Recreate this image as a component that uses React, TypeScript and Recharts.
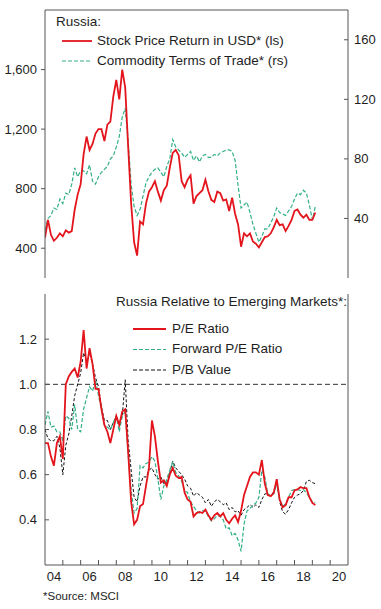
import React from 'react';
import { LineChart, Line, XAxis, YAxis, ReferenceLine } from 'recharts';

// two-month steps from Jan 2004 to early 2019
const dates = Array.from({ length: 92 }, (_, i) => 2004 + i / 6);

// top panel: stock price (left scale) and commodity terms of trade (right scale)
const stockPrice = [
  470, 590, 490, 450, 470, 500, 480, 520, 505, 515,
  660, 760, 830, 1030, 1150, 1060, 1100, 1170, 1200, 1200,
  1120, 1230, 1250, 1420, 1530, 1400, 1600, 1480, 1080, 700,
  440, 350, 580, 560, 700, 780, 810, 850, 780, 720,
  790, 820, 940, 1040, 1060, 1025, 850, 810, 860, 890,
  700, 750, 770, 790, 860, 783, 725, 710, 780, 770,
  720, 728, 650, 740, 630, 560, 410, 500, 480, 500,
  445, 430, 405, 440, 475, 480, 500, 540, 590, 555,
  560, 515, 550, 590, 650, 660, 625, 605, 625, 590,
  590, 640,
];
const commodityTot = [
  32, 40, 42, 47, 46, 53, 50, 57, 56, 63,
  74, 68, 72, 72, 70, 76, 65, 63, 68, 71,
  73, 75, 80, 82, 88, 95, 108, 114, 92, 63,
  48, 42, 46, 55, 64, 68, 71, 73, 74, 71,
  68, 75, 80, 93, 88, 86, 84, 81, 83, 85,
  79, 82, 78, 82, 83, 81, 81, 83, 82, 84,
  85, 86, 86, 85, 79, 62, 47, 49, 51, 44,
  36, 30, 24, 28, 33, 33, 37, 41, 47, 44,
  43, 42, 45, 48, 53, 57, 56, 59, 57, 49,
  39, 48,
];

// bottom panel: Russia relative to EM
const peRatio = [
  0.74, 0.74, 0.68, 0.64, 0.74, 0.77, 0.67, 1.0, 1.035, 1.055,
  1.07, 1.03, 1.1, 1.24, 1.07, 1.16, 1.09, 0.98, 0.98, 0.89,
  0.82, 0.79, 0.74, 0.8, 0.86, 0.82, 0.88, 0.89, 0.7, 0.48,
  0.38, 0.4, 0.46, 0.47, 0.55, 0.63, 0.84, 0.77, 0.66, 0.565,
  0.575, 0.55, 0.6, 0.63, 0.595, 0.585, 0.59, 0.52, 0.49, 0.48,
  0.415, 0.43, 0.435, 0.43, 0.445, 0.42, 0.4, 0.42, 0.43, 0.415,
  0.43, 0.4, 0.385, 0.405, 0.42, 0.39, 0.44, 0.51, 0.55, 0.59,
  0.61, 0.61, 0.6, 0.665, 0.56, 0.51, 0.505, 0.52, 0.58, 0.49,
  0.455, 0.465, 0.5, 0.5, 0.53, 0.535, 0.545, 0.54, 0.54, 0.5,
  0.475, 0.465,
];
const fwdPeRatio = [
  0.82, 0.88, 0.81, 0.815, 0.79, 0.79, 0.75, 0.86, 0.85, 0.8,
  0.91, 0.8, 0.79, 0.89, 0.94, 0.99, 0.97, 1.02, 0.95, 0.89,
  0.82, 0.81, 0.8, 0.83, 0.86, 0.79, 0.86, 0.88, 0.69, 0.53,
  0.43, 0.45, 0.64, 0.63, 0.65, 0.655, 0.68, 0.66, 0.58, 0.49,
  0.55, 0.58, 0.62, 0.655, 0.61, 0.595, 0.57, 0.53, 0.52, 0.48,
  0.46, 0.44, 0.43, 0.44, 0.44, 0.415, 0.395, 0.405, 0.42, 0.415,
  0.4, 0.36, 0.365, 0.33, 0.34, 0.31, 0.26, 0.38, 0.44, 0.45,
  0.465, 0.475, 0.5, 0.62, 0.59, 0.515, 0.505, 0.515, 0.56, 0.49,
  0.46, 0.47, 0.5, 0.53, 0.534, 0.534, 0.53, 0.534, 0.52, 0.5,
  0.48, 0.475,
];
const pbValue = [
  0.8, 0.76, 0.75, 0.75, 0.77, 0.72, 0.6, 0.73, 0.78, 0.86,
  0.95, 1.0, 1.05, 1.14, 1.1, 1.14, 1.09, 1.03, 0.99, 0.9,
  0.84, 0.84, 0.8, 0.83, 0.86, 0.82, 0.86, 1.02, 0.75, 0.62,
  0.5, 0.48, 0.55, 0.59, 0.59, 0.62, 0.63, 0.6, 0.58, 0.59,
  0.56, 0.565, 0.61, 0.66, 0.63, 0.615, 0.6, 0.58, 0.55, 0.54,
  0.505, 0.52, 0.51, 0.5, 0.475, 0.49, 0.46, 0.48, 0.49, 0.48,
  0.467, 0.475, 0.445, 0.455, 0.435, 0.44, 0.42, 0.445, 0.455, 0.467,
  0.455, 0.467, 0.455, 0.49, 0.515, 0.515, 0.505, 0.525, 0.58, 0.48,
  0.435, 0.425, 0.445, 0.475, 0.5, 0.51, 0.515, 0.53, 0.57, 0.575,
  0.565, 0.56,
];

const stockTicks = [400, 800, 1200, 1600];
const totTicks = [40, 80, 120, 160];
const ratioTicks = [0.4, 0.6, 0.8, 1.0, 1.2];
const yearLabels = ['04', '06', '08', '10', '12', '14', '16', '18', '20'];
const yearBreaks = [2005, 2006, 2007, 2008, 2009, 2010, 2011, 2012, 2013, 2014, 2015, 2016, 2017, 2018, 2019, 2020];

const FONT = '"Liberation Sans", Arial, sans-serif';
const TEXT = '#1e1e1e';
const AXIS = '#555';
const RED = '#e3141c';
const GREEN = '#34b088';

const topData = dates.map((t, i) => ({ t, stock: stockPrice[i], tot: commodityTot[i] }));
const bottomData = dates.map((t, i) => ({ t, pe: peRatio[i], fpe: fwdPeRatio[i], pb: pbValue[i] }));

const labelTicks = yearLabels.map((l) => 2000 + Number(l) + 0.5);
const xTicks = [...yearBreaks, ...labelTicks].sort((a, b) => a - b);

// y tick: short mark (in or out) plus label
const YTick = (props: any) => {
  const { x, y, payload, side, inward, fmt } = props;
  const dir = side === 'left' ? 1 : -1;
  const len = inward ? 4 * dir : -4 * dir;
  const tx = side === 'left' ? x - 8 : x + 6;
  return (
    <g>
      <line x1={x} y1={y} x2={x + len} y2={y} stroke={AXIS} />
      <text x={tx} y={y} dy={4.5} textAnchor={side === 'left' ? 'end' : 'start'}
        fontSize={13} fill={TEXT} fontFamily={FONT}>
        {fmt(payload.value)}
      </text>
    </g>
  );
};

const XTick = (props: any) => {
  const { x, y, payload } = props;
  const v = payload.value;
  if (Number.isInteger(v)) {
    return <line x1={x} y1={y} x2={x} y2={y - 5} stroke={AXIS} />;
  }
  return (
    <text x={x} y={y + 16} textAnchor="middle" fontSize={13} fill={TEXT} fontFamily={FONT}>
      {String(Math.floor(v) - 2000).padStart(2, '0')}
    </text>
  );
};

const Sample = ({ x1, x2, y, color, dash, w }: any) => (
  <svg style={{ position: 'absolute', left: 0, top: 0, overflow: 'visible' }} width={1} height={1}>
    <line x1={x1} y1={y} x2={x2} y2={y} stroke={color} strokeWidth={w} strokeDasharray={dash} />
  </svg>
);

const Label = ({ left, right, cy, size = 13.5, children }: any) => (
  <div style={{
    position: 'absolute', left, right, top: cy - 8, lineHeight: '16px',
    fontSize: size, fontFamily: FONT, color: TEXT, whiteSpace: 'nowrap',
  }}>
    {children}
  </div>
);

const fmtThousands = (v: number) => v.toLocaleString('en-US');
const fmtPlain = (v: number) => String(v);
const fmtOne = (v: number) => v.toFixed(1);

export default function App() {
  return (
    <div style={{ position: 'absolute', left: 0, top: 0, width: 381, height: 609, background: '#fff' }}>
      <div style={{ position: 'absolute', left: 0, top: 0 }}>
        <LineChart width={381} height={290} data={topData} margin={{ top: 10, right: 0, bottom: 12, left: 0 }}>
          <XAxis dataKey="t" type="number" domain={[2004, 2021]} hide allowDataOverflow />
          <YAxis yAxisId="l" orientation="left" width={45} domain={[200, 2000]} ticks={stockTicks}
            tickLine={false} tickSize={0} tickMargin={0} stroke={AXIS} interval={0}
            tick={(p: any) => <YTick {...p} side="left" inward={false} fmt={fmtThousands} />} />
          <YAxis yAxisId="r" orientation="right" width={33} domain={[0, 180]} ticks={totTicks}
            tickLine={false} tickSize={0} tickMargin={0} stroke={AXIS} interval={0}
            tick={(p: any) => <YTick {...p} side="right" inward fmt={fmtPlain} />} />
          <ReferenceLine yAxisId="l" y={2000} stroke={AXIS} />
          <Line yAxisId="r" dataKey="tot" stroke={GREEN} strokeWidth={1.2} strokeDasharray="4 2"
            dot={false} isAnimationActive={false} />
          <Line yAxisId="l" dataKey="stock" stroke={RED} strokeWidth={1.8}
            dot={false} isAnimationActive={false} />
        </LineChart>
      </div>

      <div style={{ position: 'absolute', left: 0, top: 280 }}>
        <LineChart width={381} height={310} data={bottomData} margin={{ top: 14, right: 0, bottom: 0, left: 0 }}>
          <XAxis dataKey="t" type="number" domain={[2004, 2021]} ticks={xTicks} interval={0}
            height={25} tickLine={false} tickSize={0} tickMargin={0} stroke={AXIS} allowDataOverflow
            tick={(p: any) => <XTick {...p} />} />
          <YAxis yAxisId="l" orientation="left" width={45} domain={[0.2, 1.4]} ticks={ratioTicks}
            tickLine={false} tickSize={0} tickMargin={0} stroke={AXIS} interval={0}
            tick={(p: any) => <YTick {...p} side="left" inward fmt={fmtOne} />} />
          <YAxis yAxisId="r" orientation="right" width={33} domain={[0.2, 1.4]} ticks={ratioTicks}
            tickLine={false} tickSize={0} tickMargin={0} stroke={AXIS} interval={0}
            tick={(p: any) => <YTick {...p} side="right" inward fmt={fmtOne} />} />
          <ReferenceLine yAxisId="l" y={1.0} stroke="#333" strokeDasharray="5 3" />
          <Line yAxisId="l" dataKey="pb" stroke="#111" strokeWidth={1} strokeDasharray="3 2"
            dot={false} isAnimationActive={false} />
          <Line yAxisId="l" dataKey="fpe" stroke={GREEN} strokeWidth={1.2} strokeDasharray="4 2"
            dot={false} isAnimationActive={false} />
          <Line yAxisId="l" dataKey="pe" stroke={RED} strokeWidth={1.8}
            dot={false} isAnimationActive={false} />
        </LineChart>
      </div>

      {/* top legend */}
      <Label left={56} cy={22}>Russia:</Label>
      <Sample x1={62} x2={92} y={41} color={RED} w={1.8} />
      <Label left={97} cy={40.5}>Stock Price Return in USD* (ls)</Label>
      <Sample x1={62} x2={92} y={61} color={GREEN} w={1.2} dash="4 2" />
      <Label left={97} cy={61}>Commodity Terms of Trade* (rs)</Label>

      {/* bottom legend */}
      <Label right={34} cy={302}>Russia Relative to Emerging Markets*:</Label>
      <Sample x1={133} x2={166} y={329} color={RED} w={1.8} />
      <Label left={172} cy={328.5}>P/E Ratio</Label>
      <Sample x1={133} x2={166} y={349.5} color={GREEN} w={1.2} dash="4 2" />
      <Label left={172} cy={349}>Forward P/E Ratio</Label>
      <Sample x1={133} x2={166} y={370} color="#111" w={1} dash="4 2" />
      <Label left={172} cy={369.5}>P/B Value</Label>

      <Label left={43} cy={596} size={11.5}>*Source: MSCI</Label>
    </div>
  );
}
